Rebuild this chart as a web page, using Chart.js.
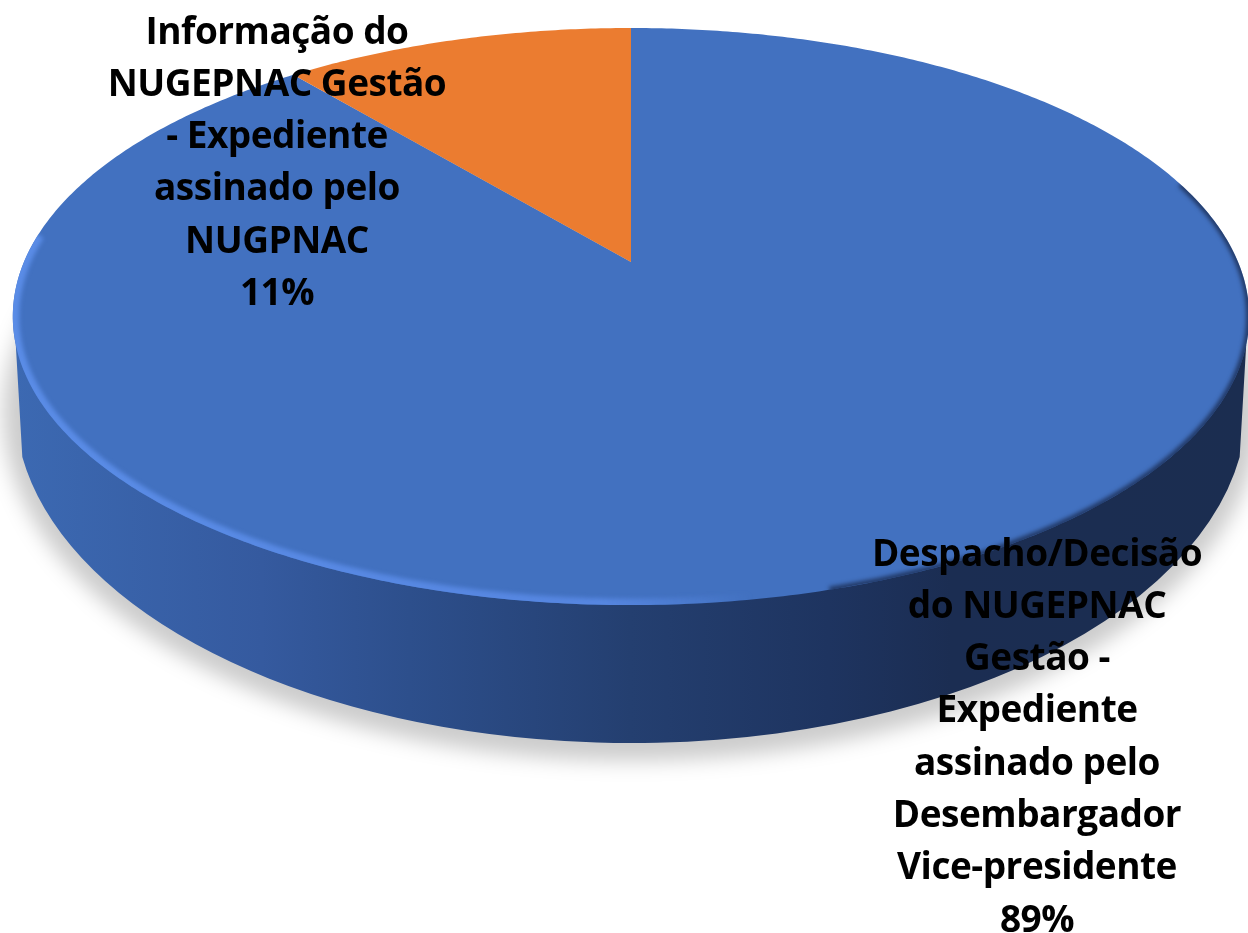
<!DOCTYPE html>
<html>
<head>
<meta charset="utf-8">
<title>Expedientes</title>
<script src="https://cdn.jsdelivr.net/npm/chart.js@4/dist/chart.umd.js"></script>
<style>
  html, body { margin: 0; padding: 0; background: #fff; overflow: hidden; }
  canvas { display: block; }
</style>
</head>
<body>
<canvas id="pieChart" width="1248" height="933"></canvas>
<script>
  'use strict';

  const categories = [
    'Despacho/Decisão do NUGEPNAC Gestão - Expediente assinado pelo Desembargador Vice-presidente',
    'Informação do NUGEPNAC Gestão - Expediente assinado pelo NUGPNAC'
  ];
  const values = [89, 11];
  const sliceColors = ['#4271C0', '#EB7C30'];
  const labelLines = [
    ['Despacho/Decisão', 'do NUGEPNAC', 'Gestão -', 'Expediente', 'assinado pelo', 'Desembargador', 'Vice-presidente', '89%'],
    ['Informação do', 'NUGEPNAC Gestão', '- Expediente', 'assinado pelo', 'NUGPNAC', '11%']
  ];

  // centre of each label block, first line
  const labelPlaces = [{ x: 1037, y: 555 }, { x: 277, y: 33 }];
  const LINE_HEIGHT = 52.3;
  const LABEL_FONT = 'bold 37px "Open Sans", sans-serif';

  // camera: how the flat circle of the pie is laid on the page (ratios of the radius)
  const STRETCH_X = 2.317;
  const STRETCH_Y = 1.062;
  const TILT = -0.189;
  // lower face of the disc
  const BASE_RX = 2.351;
  const BASE_RY = 1.29;
  const BASE_DROP = 0.546;
  const BASE_START = 0.154;
  const WALL_START = 0.286;

  function rimPoint(el, angle) {
    const d = 1 + TILT * Math.sin(angle);
    return {
      x: el.x + el.outerRadius * STRETCH_X * Math.cos(angle) / d,
      y: el.y + el.outerRadius * STRETCH_Y * Math.sin(angle) / d
    };
  }

  function traceRim(ctx, el, from, to) {
    const steps = Math.max(2, Math.ceil(Math.abs(to - from) / 0.01));
    for (let i = 0; i <= steps; i++) {
      const p = rimPoint(el, from + (to - from) * i / steps);
      ctx.lineTo(p.x, p.y);
    }
  }

  // library keeps the angles, we only change how the arc lands on the page
  Chart.ArcElement.prototype.draw = function (ctx) {
    ctx.save();
    ctx.beginPath();
    ctx.moveTo(this.x, this.y);
    traceRim(ctx, this, this.startAngle, this.endAngle);
    ctx.closePath();
    ctx.fillStyle = this.options.backgroundColor;
    ctx.fill();
    ctx.restore();
  };

  const discPlugin = {
    id: 'disc',
    beforeDatasetsDraw(chart) {
      const ctx = chart.ctx;
      const el = chart.getDatasetMeta(0).data[0];
      const R = el.outerRadius;
      const cy = el.y + R * BASE_DROP;
      const rx = R * BASE_RX;
      const ry = R * BASE_RY;

      // soft shadow under the disc
      ctx.save();
      ctx.filter = 'blur(10px)';
      ctx.fillStyle = 'rgba(0,0,0,0.2)';
      ctx.beginPath();
      ctx.ellipse(el.x, cy + 8, rx + 12, ry + 10, 0, 0, Math.PI * 2);
      ctx.fill();
      ctx.restore();

      // side wall
      const grad = ctx.createLinearGradient(el.x - rx, 0, el.x + rx, 0);
      grad.addColorStop(0, '#3C69B2');
      grad.addColorStop(0.2, '#355A9F');
      grad.addColorStop(0.32, '#2D4F8C');
      grad.addColorStop(0.5, '#243F70');
      grad.addColorStop(0.66, '#1E3460');
      grad.addColorStop(0.76, '#1B2D52');
      grad.addColorStop(1, '#1B2D50');
      ctx.save();
      ctx.beginPath();
      const a = rimPoint(el, WALL_START);
      ctx.moveTo(a.x, a.y);
      ctx.ellipse(el.x, cy, rx, ry, 0, BASE_START, Math.PI - BASE_START);
      const b = rimPoint(el, Math.PI - WALL_START);
      ctx.lineTo(b.x, b.y);
      ctx.closePath();
      ctx.fillStyle = grad;
      ctx.fill();
      ctx.restore();
    },
    afterDatasetsDraw(chart) {
      const ctx = chart.ctx;
      const el = chart.getDatasetMeta(0).data[0];

      ctx.save();
      ctx.beginPath();
      traceRim(ctx, el, 0, Math.PI * 2);
      ctx.closePath();
      ctx.clip();

      // dark soft edge on the right side
      ctx.filter = 'blur(2px)';
      ctx.strokeStyle = 'rgba(24,40,75,0.8)';
      ctx.lineWidth = 6;
      ctx.beginPath();
      traceRim(ctx, el, -0.3, 1.3);
      ctx.stroke();

      // light bevel on the front and left
      ctx.filter = 'blur(2px)';
      const shine = ctx.createLinearGradient(el.x - 620, 0, el.x + 120, 0);
      shine.addColorStop(0, '#5A8CE6');
      shine.addColorStop(0.8, '#5686E0');
      shine.addColorStop(1, 'rgba(86,134,224,0)');
      ctx.strokeStyle = shine;
      ctx.lineWidth = 13;
      ctx.beginPath();
      traceRim(ctx, el, 1.3, Math.PI + 0.1);
      ctx.stroke();
      ctx.restore();
    },
    afterDraw(chart) {
      const ctx = chart.ctx;
      ctx.save();
      ctx.font = LABEL_FONT;
      ctx.letterSpacing = '-0.5px';
      ctx.fillStyle = '#000';
      ctx.textAlign = 'center';
      ctx.textBaseline = 'middle';
      labelLines.forEach((lines, i) => {
        lines.forEach((line, j) => {
          ctx.fillText(line, labelPlaces[i].x, labelPlaces[i].y + j * LINE_HEIGHT);
        });
      });
      ctx.restore();
    }
  };

  new Chart(document.getElementById('pieChart').getContext('2d'), {
    type: 'pie',
    data: {
      labels: categories,
      datasets: [{
        data: values,
        backgroundColor: sliceColors,
        borderWidth: 0,
        clip: false
      }]
    },
    options: {
      responsive: false,
      animation: false,
      layout: { padding: { left: 14, bottom: 409 } },
      plugins: {
        legend: { display: false },
        tooltip: { enabled: false }
      }
    },
    plugins: [discPlugin]
  });
</script>
</body>
</html>
